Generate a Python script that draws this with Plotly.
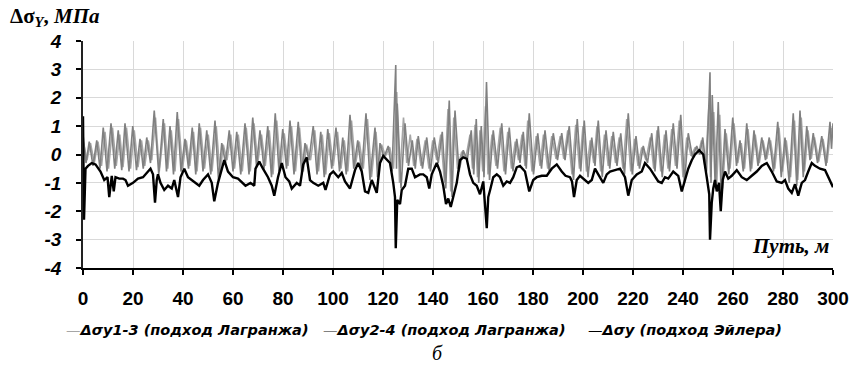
import plotly.graph_objects as go

# ---- data ----
x13 = [0, 1.6, 3.0, 4.5, 6.0, 7.4, 8.8, 10.2, 11.8, 13.3, 14.7, 16.0, 17.4, 19.0, 20.5, 22.0, 23.4, 24.7, 26.1, 27.5,
       29.0, 30.5, 32.6, 33.9, 35.3, 36.8, 38.2, 39.8, 41.3, 42.7, 44.2, 45.6, 47.0, 48.6, 50.1, 51.6, 53.3, 54.8, 56.1, 57.6,
       59.1, 60.6, 62.1, 63.7, 65.3, 66.9, 68.4, 69.9, 71.4, 72.9, 74.5, 76.0, 77.5, 79.0, 80.5, 82.0, 83.4, 85.0, 86.6, 88.1,
       89.4, 91.0, 92.7, 94.2, 95.7, 97.1, 98.5, 100.1, 101.8, 103.2, 104.5, 105.9, 107.4, 108.9, 110.5, 112.1, 113.8, 115.4, 117.2, 118.3,
       119.4, 121.0, 122.7, 124.2, 125.5, 126.6, 128.2, 129.5, 130.9, 132.3, 133.6, 135.2, 136.9, 138.4, 139.9, 141.5, 143.1, 144.6, 146.0, 147.1,
       148.3, 149.8, 151.5, 153.1, 154.8, 155.8, 156.8, 157.8, 158.8, 159.9, 161.0, 162.0, 163.6, 165.2, 166.9, 168.4, 169.9, 171.4, 172.9, 174.2,
       175.6, 176.8, 177.9, 179.6, 181.3, 182.8, 184.2, 185.9, 187.5, 189.2, 190.9, 192.3, 193.9, 195.6, 197.1, 198.6, 200.0, 201.4, 202.9, 204.3,
       205.6, 207.1, 208.6, 210.1, 211.5, 213.0, 214.5, 216.0, 217.5, 219.1, 220.6, 222.0, 223.5, 225.2, 226.9, 228.3, 229.6, 231.1, 232.6, 234.0,
       235.5, 237.0, 238.5, 240.0, 241.5, 243.2, 244.9, 246.2, 247.4, 248.9, 250.3, 251.0, 252.3, 253.5, 254.7, 255.8, 257.3, 258.8, 260.4, 261.9,
       263.3, 264.6, 266.0, 267.5, 268.9, 270.5, 272.0, 273.5, 275.0, 276.7, 278.4, 279.8, 281.3, 283.0, 284.6, 285.9, 287.3, 288.6, 290.0, 291.3,
       292.6, 294.3, 296.0, 297.6, 299.2, 300]
y13 = [0.5, -0.2, 0.4, -0.3, 0.45, -0.4, 0.8, -0.5, 0.95, -0.4, 0.7, -0.45, 0.95, -0.5, 0.85, -0.45, 0.5, -0.4, 0.5, -0.2,
       1.3, -0.6, 1.1, -0.5, 0.85, -0.6, 1.25, -0.5, 0.5, -0.4, 0.8, -0.6, 0.95, -0.5, 0.7, -0.6, 1.0, -0.7, 0.35, -0.2,
       0.7, -0.5, 0.7, -0.6, 0.95, -0.6, 1.1, -0.3, 0.7, -0.4, 0.85, -0.7, 1.2, -0.5, 0.75, -0.4, 1.0, -0.6, 0.95, -0.6,
       0.35, -0.2, 0.85, -0.6, 0.7, -0.7, 0.75, -0.4, 0.8, -0.5, 0.5, -0.6, 1.2, -0.4, 0.45, -0.5, 1.25, -0.8, 0.8, -0.6,
       0.35, -0.05, 0.25, -0.5, 2.2, -1.0, 1.3, -0.3, 0.7, -0.4, 0.55, -0.4, 0.5, -0.5, 0.5, -0.2, 0.7, -1.0, 1.6, -1.3,
       1.3, -0.5, 0.1, -0.15, 0.7, -0.5, 1.05, -0.8, 0.85, -0.6, 1.7, -0.7, 0.7, -0.4, 0.95, -0.6, 0.8, -0.5, 0.45, -0.2,
       0.7, -0.4, 1.2, -0.6, 0.65, -0.4, 0.7, -0.5, 0.65, -0.15, 0.65, -0.15, 0.85, -0.7, 1.05, -0.5, 1.0, -0.6, 0.5, -0.3,
       1.0, -0.6, 0.7, -0.4, 0.65, -0.3, 0.6, -0.5, 1.25, -0.6, 0.55, -0.4, 0.25, -0.2, 0.6, -0.5, 0.85, -0.6, 0.7, -0.5,
       0.9, -0.4, 1.2, -0.8, 0.6, -0.05, 0.25, 0.05, 0.5, -0.5, 1.6, -0.8, 1.5, -1.0, 1.4, -1.2, 0.75, -0.5, 1.1, -0.3,
       0.4, -0.5, 0.9, -0.5, 0.7, -0.3, 0.5, -0.15, 0.5, -0.5, 0.95, -0.6, 0.5, -0.8, 1.2, -0.9, 1.3, -0.6, 0.85, -0.15,
       0.6, -0.25, 0.55, -0.3, 0.95, 0.6]

x24 = [0, 1.2, 2.5, 4.0, 5.5, 6.8, 8.1, 9.6, 11.2, 12.7, 14.1, 15.5, 16.8, 18.4, 19.9, 21.4, 22.8, 24.1, 25.5, 27.0,
       28.5, 30.3, 32.1, 33.4, 34.8, 36.2, 37.7, 39.2, 40.8, 42.2, 43.7, 45.1, 46.5, 48.0, 49.5, 51.1, 52.8, 54.2, 55.5, 57.0,
       58.5, 60.0, 61.5, 63.1, 64.8, 66.4, 67.9, 69.4, 70.8, 72.4, 73.9, 75.4, 76.9, 78.4, 79.9, 81.4, 82.8, 84.4, 86.1, 87.5,
       88.8, 90.4, 92.1, 93.6, 95.1, 96.5, 97.9, 99.5, 101.2, 102.6, 103.9, 105.3, 106.8, 108.3, 109.9, 111.5, 113.2, 114.8, 116.8, 117.8,
       118.8, 120.4, 122.1, 123.6, 125.1, 125.4, 125.7, 127.2, 128.8, 130.2, 131.7, 132.9, 134.1, 135.8, 137.5, 139.0, 140.5, 142.1, 143.7, 145.1,
       146.5, 147.6, 148.8, 150.4, 152.1, 153.7, 155.3, 156.3, 157.3, 158.3, 159.3, 160.4, 161.4, 162.6, 164.1, 165.8, 167.5, 169.0, 170.5, 172.0,
       173.5, 174.8, 176.1, 177.3, 178.5, 180.2, 181.9, 183.4, 184.8, 186.5, 188.1, 189.8, 191.5, 192.8, 194.5, 196.2, 197.7, 199.1, 200.5, 202.0,
       203.5, 204.8, 206.1, 207.7, 209.2, 210.7, 212.1, 213.6, 215.1, 216.6, 218.1, 219.7, 221.2, 222.6, 224.1, 225.8, 227.5, 228.8, 230.1, 231.7,
       233.2, 234.6, 236.1, 237.6, 239.1, 240.6, 242.1, 243.8, 245.5, 246.7, 247.9, 249.4, 250.8, 251.2, 251.7, 252.9, 254.1, 255.3, 256.8, 258.3,
       259.9, 261.4, 262.8, 264.1, 265.5, 267.0, 268.4, 270.0, 271.5, 273.0, 274.5, 276.2, 277.9, 279.3, 280.8, 282.5, 284.1, 285.5, 286.8, 288.1,
       289.5, 290.8, 292.1, 293.8, 295.5, 297.2, 298.8, 299.4, 300]
y24 = [0.7, -0.3, 0.45, -0.4, 0.5, -0.5, 0.95, -0.6, 1.1, -0.5, 0.85, -0.55, 1.1, -0.6, 1.0, -0.55, 0.55, -0.5, 0.6, -0.3,
       1.55, -0.7, 1.25, -0.6, 1.0, -0.7, 1.5, -0.6, 0.55, -0.5, 0.95, -0.7, 1.1, -0.6, 0.85, -0.7, 1.2, -0.9, 0.4, -0.3,
       0.85, -0.6, 0.8, -0.7, 1.1, -0.7, 1.3, -0.4, 0.85, -0.5, 1.0, -0.8, 1.45, -0.6, 0.9, -0.5, 1.2, -0.7, 1.15, -0.7,
       0.4, -0.2, 1.0, -0.7, 0.8, -0.8, 0.9, -0.5, 0.95, -0.6, 0.6, -0.7, 1.4, -0.5, 0.5, -0.6, 1.45, -0.9, 0.95, -0.8,
       0.4, -0.1, 0.3, -0.6, 3.15, -0.5, 1.8, -1.2, 1.1, -0.4, 0.5, -0.5, 0.65, -0.5, 0.6, -0.6, 0.6, -0.3, 0.8, -1.2,
       1.9, -1.5, 1.55, -0.6, 0.15, -0.2, 0.85, -0.7, 1.25, -1.0, 1.0, -0.8, 2.55, -0.9, 0.85, -0.5, 1.1, -0.7, 0.95, -0.6,
       0.55, -0.3, 0.8, -0.5, 1.45, -0.7, 0.75, -0.5, 0.85, -0.6, 0.75, -0.2, 0.75, -0.2, 1.0, -0.9, 1.25, -0.6, 1.2, -0.8,
       0.6, -0.4, 1.2, -0.8, 0.85, -0.5, 0.8, -0.4, 0.75, -0.7, 1.45, -0.7, 0.65, -0.5, 0.3, -0.3, 0.75, -0.6, 1.0, -0.8,
       0.85, -0.6, 1.1, -0.5, 1.4, -1.0, 0.75, -0.1, 0.3, 0.0, 0.6, -0.6, 2.9, -1.0, 2.1, -1.2, 1.85, -1.5, 0.9, -0.7,
       1.3, -0.4, 0.5, -0.6, 1.1, -0.6, 0.85, -0.4, 0.6, -0.2, 0.6, -0.6, 1.15, -0.8, 0.6, -1.0, 1.45, -1.1, 1.55, -0.8,
       1.0, -0.2, 0.75, -0.3, 0.65, -0.4, 1.15, 0.2, 1.1]

xe = [0, 0.4, 1.0, 2.0, 3.5, 5.0, 7.0, 8.5, 9.8, 10.5, 11.5, 12.3, 13.0, 14.5, 16.0, 17.0, 18.0, 20.0, 22.0, 24.0,
      26.0, 27.0, 28.0, 28.8, 29.5, 30.0, 31.0, 32.5, 34.0, 35.5, 36.5, 38.0, 39.0, 40.5, 42.0, 43.5, 45.0, 46.5, 48.0, 50.0,
      51.5, 52.5, 54.0, 55.5, 56.5, 58.0, 60.0, 62.0, 64.0, 65.0, 67.0, 68.5, 69.0, 70.5, 72.0, 74.0, 75.5, 76.5, 78.0, 79.5,
      81.0, 82.5, 83.5, 85.5, 86.8, 88.1, 89.5, 90.8, 92.1, 94.1, 96.1, 97.0, 98.8, 100.1, 102.1, 103.5, 104.8, 106.8, 108.8, 110.1,
      111.5, 112.8, 114.1, 115.5, 117.5, 118.8, 120.1, 121.5, 122.8, 124.1, 124.8, 125.1, 125.7, 126.8, 127.5, 128.8, 130.1, 131.5, 132.8, 134.8,
      136.1, 137.5, 138.5, 139.5, 141.5, 142.8, 144.1, 145.2, 146.1, 147.1, 148.1, 149.5, 150.8, 152.1, 153.5, 154.8, 156.1, 157.5, 158.8, 160.1,
      161.5, 162.1, 163.0, 164.1, 165.5, 166.8, 168.1, 169.5, 170.8, 172.1, 173.5, 174.8, 176.8, 178.5, 180.1, 181.5, 183.5, 185.5, 187.5, 189.5,
      191.5, 193.0, 194.8, 195.6, 196.4, 197.5, 198.8, 200.1, 202.1, 203.5, 204.8, 206.1, 208.1, 209.5, 210.8, 212.8, 214.8, 216.8, 218.1, 219.5,
      221.5, 223.5, 224.8, 226.8, 228.8, 230.1, 231.5, 232.8, 234.1, 236.1, 238.1, 239.5, 240.8, 242.1, 243.5, 244.8, 246.5, 248.1, 249.5, 250.5,
      250.8, 251.5, 252.1, 252.8, 253.5, 254.4, 255.1, 255.9, 256.8, 258.1, 259.5, 261.5, 263.5, 265.5, 267.5, 269.5, 271.5, 273.5, 275.5, 277.5,
      279.5, 280.8, 282.1, 283.5, 284.8, 286.1, 287.5, 288.8, 290.1, 291.5, 292.8, 294.8, 296.8, 298.1, 299.5, 300]
ye = [1.35, -2.3, -0.5, -0.4, -0.3, -0.35, -0.6, -0.9, -0.8, -1.5, -0.75, -1.3, -0.8, -0.85, -0.85, -0.9, -1.1, -1.0, -0.85, -0.8,
      -0.6, -0.5, -0.7, -1.7, -0.9, -0.7, -1.0, -1.25, -1.1, -1.2, -0.9, -1.5, -0.8, -0.5, -0.8, -0.9, -1.0, -1.1, -0.9, -0.7,
      -1.0, -1.65, -1.0, -0.5, -0.2, -0.6, -0.8, -0.85, -1.0, -1.1, -1.0, -1.1, -0.5, -0.25, -0.5, -0.8, -1.1, -1.45, -0.8, -0.3,
      -0.8, -0.95, -1.2, -1.0, -1.1, -0.35, -0.1, -0.9, -1.0, -1.1, -1.0, -1.25, -0.7, -0.6, -0.8, -0.65, -0.95, -1.2, -0.55, -0.3,
      -0.6, -1.3, -1.35, -0.9, -1.35, -0.3, -0.05, -0.2, -0.3, -1.0, -1.5, -3.3, -1.6, -1.75, -1.25, -1.1, -0.5, -0.5, -0.8, -0.7,
      -0.7, -0.8, -1.2, -0.7, -0.3, -0.6, -1.1, -1.75, -1.55, -1.85, -1.5, -1.0, -0.2, -0.1, -0.15, -0.7, -1.0, -1.1, -1.4, -0.95,
      -2.6, -1.5, -1.2, -0.8, -0.7, -0.8, -1.1, -0.95, -1.0, -0.8, -0.45, -0.4, -0.6, -1.3, -0.9, -0.8, -0.75, -0.75, -0.5, -0.35,
      -0.6, -0.75, -0.8, -0.95, -1.5, -0.9, -0.75, -0.85, -1.0, -0.9, -0.5, -0.7, -1.0, -0.7, -0.6, -0.55, -0.5, -0.8, -1.45, -0.9,
      -0.7, -0.6, -0.3, -0.5, -0.8, -0.95, -1.0, -0.8, -0.85, -0.6, -0.75, -1.3, -0.9, -0.5, -0.2, 0.0, 0.15, 0.0, -0.8, -1.4,
      -3.0, -1.7, -1.2, -0.9, -1.3, -1.0, -2.0, -0.9, -0.6, -0.85, -0.75, -0.55, -0.8, -0.9, -0.75, -0.6, -0.4, -0.3, -0.6, -0.95,
      -1.0, -0.9, -1.2, -1.35, -1.05, -1.45, -1.0, -0.9, -0.6, -0.3, -0.4, -0.5, -0.55, -0.8, -1.1, -1.15]

series_names = ["Δσy1-3 (подход Лагранжа)", "Δσy2-4 (подход Лагранжа)", "Δσy (подход Эйлера)"]
series_colors = ["#a6a6a6", "#808080", "#000000"]
x_ticks = list(range(0, 301, 20))
y_ticks = list(range(-4, 5))

# plot area in pixels (for placing annotations)
L, R, T, B = 83, 833, 41, 268
W, H = 850, 374
def px(xp):
    return (xp - L) / (R - L)
def py(yp):
    return (B - yp) / (B - T)

fig = go.Figure()
fig.add_trace(go.Scatter(x=x13, y=y13, mode="lines", name=series_names[0],
                         line=dict(color=series_colors[0], width=1.6)))
fig.add_trace(go.Scatter(x=x24, y=y24, mode="lines", name=series_names[1],
                         line=dict(color=series_colors[1], width=1.6)))
fig.add_trace(go.Scatter(x=xe, y=ye, mode="lines", name=series_names[2],
                         line=dict(color=series_colors[2], width=2.4)))

fig.update_layout(
    width=W, height=H,
    margin=dict(l=L, r=W - R, t=T, b=H - B, autoexpand=False),
    paper_bgcolor="white", plot_bgcolor="white",
    showlegend=False,
    xaxis=dict(range=[0, 300], tickvals=x_ticks, ticktext=[str(v) for v in x_ticks],
               automargin=False,
               showgrid=True, gridcolor="#d9d9d9", gridwidth=1,
               showline=True, linecolor="black", linewidth=2,
               ticks="outside", ticklen=5, tickwidth=1.5, tickcolor="black",
               ticklabelstandoff=7,
               tickfont=dict(family="Liberation Sans", size=19, color="black", weight="bold"),
               zeroline=False, mirror=False),
    yaxis=dict(range=[-4, 4], tickvals=y_ticks, ticktext=[str(v) for v in y_ticks],
               automargin=False,
               showgrid=True, gridcolor="#d9d9d9", gridwidth=1,
               showline=True, linecolor="#222222", linewidth=1.8,
               ticks="outside", ticklen=5, tickwidth=1.5, tickcolor="black",
               ticklabelstandoff=11,
               tickfont=dict(family="Liberation Sans", size=19, color="black", weight="bold", style="italic"),
               zeroline=False),
)

ann = []
ann.append(dict(text="<b>Δσ<sub><i>Y</i></sub>, <i>МПа</i></b>", x=px(8), y=py(17), xref="paper", yref="paper",
                xanchor="left", yanchor="middle", showarrow=False,
                font=dict(family="Liberation Serif", size=21, color="black")))
ann.append(dict(text="<b><i>Путь, м</i></b>", x=px(831), y=py(246), xref="paper", yref="paper",
                xanchor="right", yanchor="middle", showarrow=False,
                font=dict(family="Liberation Serif", size=21, color="black")))
ann.append(dict(text="<i>б</i>", x=px(437), y=py(353), xref="paper", yref="paper",
                xanchor="center", yanchor="middle", showarrow=False,
                font=dict(family="Liberation Serif", size=20, color="black")))
leg_x = [64, 321, 586]
for i in range(3):
    ann.append(dict(text=f'<span style="color:{series_colors[i]}">—</span><b><i>{series_names[i]}</i></b>',
                    x=px(leg_x[i]), y=py(330), xref="paper", yref="paper",
                    xanchor="left", yanchor="middle", showarrow=False,
                    font=dict(family="DejaVu Sans", size=14.5, color="black")))
fig.update_layout(annotations=ann)

fig.write_html("out.html")
